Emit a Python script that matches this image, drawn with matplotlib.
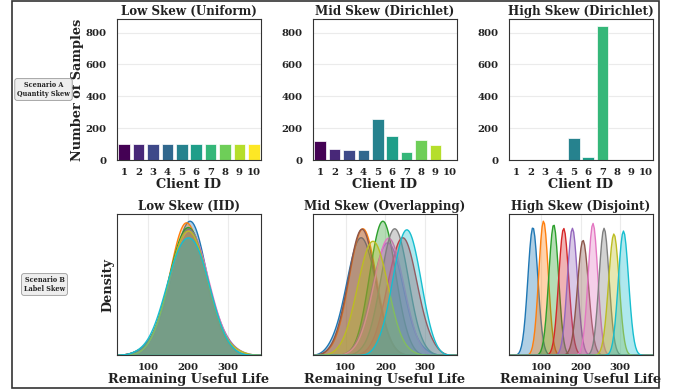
import matplotlib
matplotlib.use('Agg')
import matplotlib.pyplot as plt
import numpy as np
import seaborn as sns
from matplotlib.patches import Rectangle

CLIENTS = list(range(1, 11))

# Scenario A: number of samples held by each client
QTY_UNIFORM = [100, 100, 100, 100, 100, 100, 100, 100, 100, 100]
QTY_MID = [122, 69, 63, 63, 259, 152, 48, 126, 97, 1]
QTY_HIGH = [0, 0, 0, 0, 140, 17, 843, 0, 0, 0]

# Scenario B: RUL histograms per client (bin centres + counts)
RUL_BINS = [20, 40, 60, 80, 100, 120, 140, 160, 180, 200,
            220, 240, 260, 280, 300, 320, 340, 360]

RUL_IID = [
    [0, 0, 0, 0, 1, 3, 6, 11, 17, 21, 20, 12, 6, 3, 1, 0, 0, 0],
    [0, 0, 0, 1, 1, 3, 7, 12, 21, 21, 16, 11, 6, 2, 1, 0, 0, 0],
    [0, 0, 0, 0, 1, 3, 7, 13, 18, 19, 18, 12, 6, 3, 1, 0, 0, 0],
    [0, 0, 0, 1, 1, 3, 7, 12, 18, 19, 18, 12, 7, 3, 1, 0, 0, 0],
    [0, 0, 0, 0, 1, 3, 7, 12, 18, 20, 17, 12, 7, 4, 1, 1, 0, 0],
    [0, 0, 0, 1, 1, 3, 7, 12, 18, 20, 18, 12, 7, 3, 1, 0, 0, 0],
    [0, 0, 0, 0, 1, 3, 7, 12, 17, 19, 18, 13, 7, 4, 1, 0, 0, 0],
    [0, 0, 0, 1, 1, 3, 7, 12, 18, 20, 18, 12, 7, 3, 1, 0, 0, 0],
    [0, 0, 0, 0, 1, 3, 7, 13, 18, 19, 18, 12, 7, 3, 1, 1, 0, 0],
    [0, 0, 0, 1, 1, 4, 8, 13, 17, 17, 17, 13, 7, 3, 1, 0, 0, 0],
]

RUL_OVERLAP = [
    [0, 0, 2, 5, 12, 21, 24, 19, 11, 4, 1, 0, 0, 0, 0, 0, 0, 0],
    [0, 0, 1, 3, 10, 20, 26, 22, 12, 4, 1, 0, 0, 0, 0, 0, 0, 0],
    [0, 0, 0, 0, 0, 1, 5, 15, 25, 27, 17, 7, 2, 0, 0, 0, 0, 0],
    [0, 0, 0, 0, 0, 0, 0, 1, 4, 11, 19, 24, 21, 12, 5, 2, 0, 0],
    [0, 0, 0, 0, 0, 1, 4, 10, 18, 23, 21, 14, 6, 2, 1, 0, 0, 0],
    [0, 0, 1, 4, 11, 21, 27, 21, 11, 4, 1, 0, 0, 0, 0, 0, 0, 0],
    [0, 0, 0, 0, 0, 1, 3, 9, 17, 24, 22, 15, 7, 2, 0, 0, 0, 0],
    [0, 0, 0, 0, 0, 0, 1, 3, 10, 20, 26, 22, 12, 4, 1, 0, 0, 0],
    [0, 0, 0, 1, 3, 9, 17, 23, 22, 15, 7, 2, 1, 0, 0, 0, 0, 0],
    [0, 0, 0, 0, 0, 0, 0, 0, 2, 6, 15, 24, 25, 18, 8, 2, 0, 0],
]

RUL_BINS_FINE = [50, 60, 70, 80, 90, 100, 110, 120, 130, 140,
                 150, 160, 170, 180, 190, 200, 210, 220, 230, 240,
                 250, 260, 270, 280, 290, 300, 310, 320, 330, 340]

RUL_DISJOINT = [
    [0, 2, 15, 25, 8, 1, 0, 0, 0, 0,   0, 0, 0, 0, 0, 0, 0, 0, 0, 0,   0, 0, 0, 0, 0, 0, 0, 0, 0, 0],
    [0, 0, 0, 0, 4, 21, 21, 4, 0, 0,   0, 0, 0, 0, 0, 0, 0, 0, 0, 0,   0, 0, 0, 0, 0, 0, 0, 0, 0, 0],
    [0, 0, 0, 0, 0, 0, 1, 10, 25, 13,  1, 0, 0, 0, 0, 0, 0, 0, 0, 0,   0, 0, 0, 0, 0, 0, 0, 0, 0, 0],
    [0, 0, 0, 0, 0, 0, 0, 0, 0, 3,     19, 22, 5, 1, 0, 0, 0, 0, 0, 0, 0, 0, 0, 0, 0, 0, 0, 0, 0, 0],
    [0, 0, 0, 0, 0, 0, 0, 0, 0, 0,     0, 2, 15, 24, 8, 1, 0, 0, 0, 0, 0, 0, 0, 0, 0, 0, 0, 0, 0, 0],
    [0, 0, 0, 0, 0, 0, 0, 0, 0, 0,     0, 0, 0, 1, 5, 20, 19, 5, 1, 0, 0, 0, 0, 0, 0, 0, 0, 0, 0, 0],
    [0, 0, 0, 0, 0, 0, 0, 0, 0, 0,     0, 0, 0, 0, 0, 0, 1, 11, 26, 11, 1, 0, 0, 0, 0, 0, 0, 0, 0, 0],
    [0, 0, 0, 0, 0, 0, 0, 0, 0, 0,     0, 0, 0, 0, 0, 0, 0, 0, 0, 2,   15, 24, 8, 1, 0, 0, 0, 0, 0, 0],
    [0, 0, 0, 0, 0, 0, 0, 0, 0, 0,     0, 0, 0, 0, 0, 0, 0, 0, 0, 0,   0, 1, 8, 21, 17, 3, 0, 0, 0, 0],
    [0, 0, 0, 0, 0, 0, 0, 0, 0, 0,     0, 0, 0, 0, 0, 0, 0, 0, 0, 0,   0, 0, 0, 0, 3, 17, 23, 7, 1, 0],
]

sns.set_style('whitegrid', rc={
    'axes.edgecolor': '#333333',
    'axes.linewidth': 1.2,
    'grid.color': '#ebebeb',
    'grid.linewidth': 0.8,
})
plt.rcParams['font.family'] = ['DejaVu Serif']
plt.rcParams['font.weight'] = 'bold'
plt.rcParams['axes.labelweight'] = 'bold'
plt.rcParams['axes.titleweight'] = 'bold'
plt.rcParams['text.color'] = '#222222'
plt.rcParams['axes.labelcolor'] = '#222222'
plt.rcParams['xtick.color'] = '#222222'
plt.rcParams['ytick.color'] = '#222222'

W, H = 678, 390
fig = plt.figure(figsize=(W / 100, H / 100), dpi=100)


def px_axes(left, top, right, bottom):
    return fig.add_axes([left / W, 1 - bottom / H, (right - left) / W, (bottom - top) / H])


bar_colors = plt.cm.viridis(np.linspace(0, 1, 10))
qty_ymax = max(QTY_UNIFORM + QTY_MID + QTY_HIGH) * 1.05

qty_panels = [
    ('Low Skew (Uniform)', QTY_UNIFORM, 117),
    ('Mid Skew (Dirichlet)', QTY_MID, 313),
    ('High Skew (Dirichlet)', QTY_HIGH, 509),
]
for i, (title, counts, left) in enumerate(qty_panels):
    ax = px_axes(left, 19, left + 144, 160)
    ax.bar(CLIENTS, counts, width=0.8, color=bar_colors, edgecolor='white', linewidth=0.5)
    ax.set_xlim(0.5, 10.5)
    ax.set_ylim(0, qty_ymax)
    ax.set_xticks(CLIENTS)
    ax.set_yticks([0, 200, 400, 600, 800])
    ax.xaxis.grid(False)
    ax.tick_params(labelsize=7.3, pad=2)
    ax.tick_params(axis='y', pad=4)
    ax.set_title(title, fontsize=8.6, pad=3)
    ax.set_xlabel('Client ID', fontsize=9.3, labelpad=1)
    if i == 0:
        ax.set_ylabel('Number of Samples', fontsize=9.3, labelpad=1)

rul_panels = [
    ('Low Skew (IID)', RUL_BINS, RUL_IID, 0.8, (22, 382), 117),
    ('Mid Skew (Overlapping)', RUL_BINS, RUL_OVERLAP, 0.7, (18, 380), 313),
    ('High Skew (Disjoint)', RUL_BINS_FINE, RUL_DISJOINT, 1.2, (19, 383), 509),
]
client_colors = sns.color_palette('tab10', 10)
for i, (title, bins, rows, bw, xlim, left) in enumerate(rul_panels):
    ax = px_axes(left, 214, left + 144, 355)
    for row, color in zip(rows, client_colors):
        sns.kdeplot(x=bins, weights=row, ax=ax, color=color, fill=True,
                    alpha=0.35, linewidth=1, bw_adjust=bw)
    ax.set_xlim(*xlim)
    ax.set_xticks([100, 200, 300])
    ax.set_yticks([])
    ax.tick_params(labelsize=7.3, pad=2)
    ax.set_title(title, fontsize=8.6, pad=3)
    ax.set_xlabel('Remaining Useful Life', fontsize=9.3, labelpad=1)
    if i == 0:
        ax.set_ylabel('Density', fontsize=9.3, labelpad=2)
    else:
        ax.set_ylabel('')

box = dict(boxstyle='round,pad=0.35', fc='#eeeeee', ec='#999999', lw=0.6)
fig.text(43.5 / W, 1 - 89.5 / H, 'Scenario A\nQuantity Skew', ha='center', va='center',
         fontsize=4.7, fontweight='bold', multialignment='center', bbox=box)
fig.text(44.5 / W, 1 - 284.5 / H, 'Scenario B\nLabel Skew', ha='center', va='center',
         fontsize=4.7, fontweight='bold', multialignment='center', bbox=box)

fig.patches.append(Rectangle((12 / W, 2 / H), 647 / W, 387 / H, transform=fig.transFigure,
                             fill=False, edgecolor='#333333', linewidth=1.2))

fig.savefig('out.png', dpi=100)
